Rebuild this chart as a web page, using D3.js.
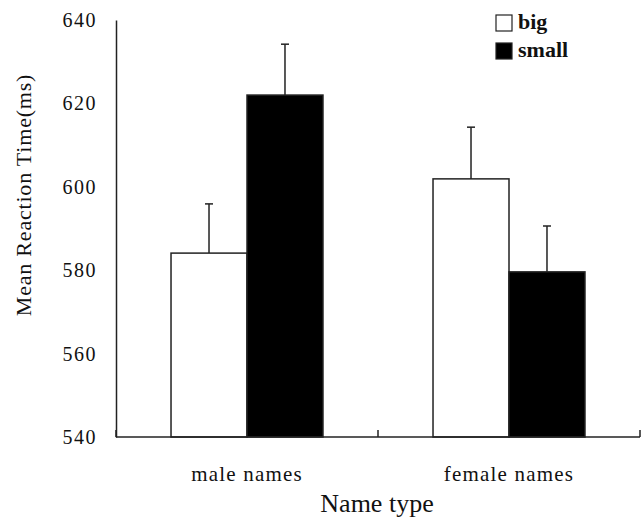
<!DOCTYPE html>
<html>
<head>
<meta charset="utf-8">
<script src="https://cdn.jsdelivr.net/npm/d3@7"></script>
<style>
  body { margin: 0; background: #fff; }
  text { font-family: "Liberation Serif", "Times New Roman", serif; fill: #111; }
</style>
</head>
<body>
<div id="chart"></div>
<script>
const categories = ["male names", "female names"];
const groups = ["big", "small"];
const means = {
  "male names": [584.1, 622.0],
  "female names": [601.9, 579.6]
};
const errors = {
  "male names": [11.8, 12.2],
  "female names": [12.4, 11.0]
};
const yTicks = [540, 560, 580, 600, 620, 640];
const fills = ["#fff", "#000"];

const width = 641,
  height = 522,
  margin = { top: 20, right: 1, bottom: 85, left: 116 };

const svg = d3.select("#chart")
  .append("svg")
  .attr("width", width)
  .attr("height", height);

const x = d3.scaleBand()
  .domain(categories)
  .range([margin.left, width - margin.right])
  .paddingInner(0.42)
  .paddingOuter(0.21);

const xSub = d3.scaleBand()
  .domain(groups)
  .range([0, x.bandwidth()]);

const y = d3.scaleLinear()
  .domain([540, 640])
  .range([height - margin.bottom, margin.top]);

const stroke = "#222";

// bars
const rows = categories.flatMap(c => groups.map((g, i) => ({
  cat: c, group: g, i, value: means[c][i], err: errors[c][i]
})));

svg.append("g")
  .selectAll("rect")
  .data(rows)
  .enter().append("rect")
  .attr("x", d => x(d.cat) + xSub(d.group))
  .attr("y", d => y(d.value))
  .attr("width", xSub.bandwidth())
  .attr("height", d => y(540) - y(d.value))
  .attr("fill", d => fills[d.i])
  .attr("stroke", stroke)
  .attr("stroke-width", 1.5);

// error bars (upper only)
const eb = svg.append("g")
  .selectAll("g")
  .data(rows)
  .enter().append("g")
  .attr("transform", d => `translate(${x(d.cat) + xSub(d.group) + xSub.bandwidth() / 2},0)`);
eb.append("line")
  .attr("y1", d => y(d.value))
  .attr("y2", d => y(d.value + d.err))
  .attr("stroke", stroke)
  .attr("stroke-width", 1.5);
eb.append("line")
  .attr("x1", -4).attr("x2", 4)
  .attr("y1", d => y(d.value + d.err))
  .attr("y2", d => y(d.value + d.err))
  .attr("stroke", stroke)
  .attr("stroke-width", 1.5);

// y axis
const yAxis = svg.append("g")
  .attr("transform", `translate(${margin.left},0)`)
  .call(d3.axisLeft(y).tickValues(yTicks).tickSize(0).tickPadding(19));
yAxis.select(".domain").attr("stroke", stroke).attr("stroke-width", 1.5);
yAxis.selectAll("text")
  .style("font-size", "20px")
  .style("letter-spacing", "1.5px")
  .attr("fill", "#111");

// x axis line + boundary ticks
const x0 = y(540);
svg.append("line")
  .attr("x1", margin.left).attr("x2", width - margin.right)
  .attr("y1", x0).attr("y2", x0)
  .attr("stroke", stroke).attr("stroke-width", 1.5);
const bounds = [margin.left].concat(categories.map(c => x(c) + x.bandwidth() + x.step() * 0.21));
svg.append("g")
  .selectAll("line")
  .data(bounds)
  .enter().append("line")
  .attr("x1", d => d).attr("x2", d => d)
  .attr("y1", x0).attr("y2", x0 - 7)
  .attr("stroke", stroke).attr("stroke-width", 1.5);

svg.append("g")
  .selectAll("text")
  .data(categories)
  .enter().append("text")
  .attr("x", d => x(d) + x.bandwidth() / 2)
  .attr("y", 481)
  .attr("text-anchor", "middle")
  .style("font-size", "21px")
  .style("letter-spacing", "1.2px")
  .text(d => d);

// axis titles
svg.append("text")
  .attr("x", 377)
  .attr("y", 512)
  .attr("text-anchor", "middle")
  .style("font-size", "26px")
  .text("Name type");

svg.append("text")
  .attr("transform", `translate(31,${195}) rotate(-90)`)
  .attr("text-anchor", "middle")
  .style("font-size", "22px")
  .style("letter-spacing", "0.8px")
  .text("Mean Reaction Time(ms)");

// legend
const legend = svg.append("g")
  .selectAll("g")
  .data(groups)
  .enter().append("g")
  .attr("transform", (d, i) => `translate(496,${15 + i * 28})`);
legend.append("rect")
  .attr("width", 16).attr("height", 16)
  .attr("fill", (d, i) => fills[i])
  .attr("stroke", stroke).attr("stroke-width", 1.2);
legend.append("text")
  .attr("x", 22).attr("y", 14)
  .style("font-size", "22px")
  .style("font-weight", "bold")
  .text(d => d);
</script>
</body>
</html>
